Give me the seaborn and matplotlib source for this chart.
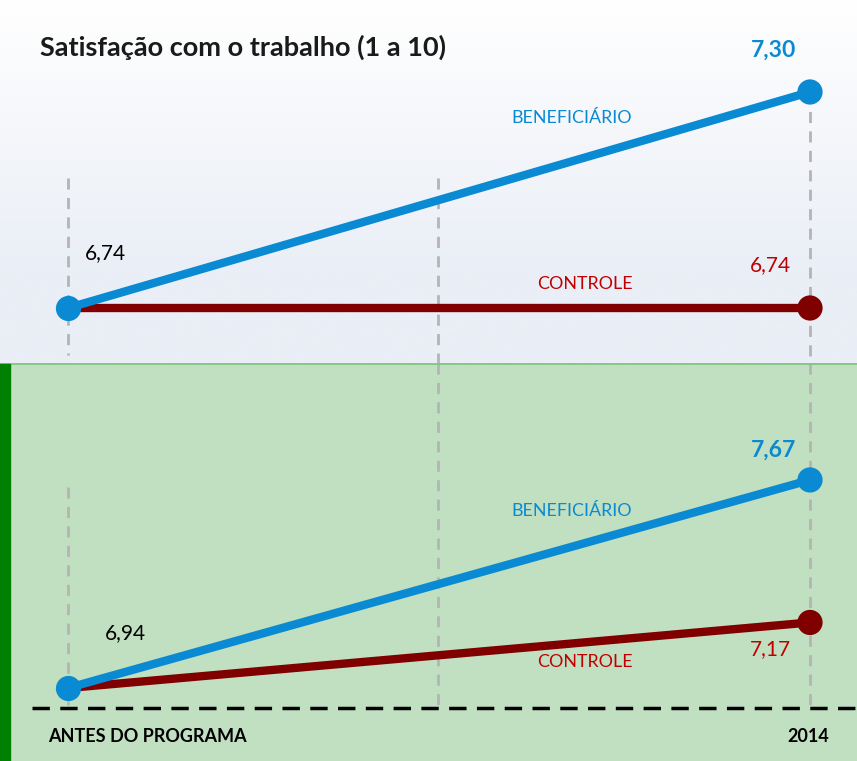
import numpy as np
import pandas as pd
import matplotlib
matplotlib.use("Agg")
import matplotlib.pyplot as plt
import seaborn as sns

# ---- data ----
periods = ["ANTES DO PROGRAMA", "2014"]
groups = ["BENEFICIÁRIO", "CONTROLE"]
top_benef = [6.74, 7.30]
top_ctrl = [6.74, 6.74]
bot_benef = [6.94, 7.67]
bot_ctrl = [6.94, 7.17]
title = "Satisfação com o trabalho (1 a 10)"

BLUE = "#0a8ad2"
RED_LINE = "#800000"
RED_TEXT = "#c00000"
FONT = ["Lato", "DejaVu Sans"]

sns.set_style("white")
plt.rcParams["font.family"] = FONT

W, H = 857, 761
fig = plt.figure(figsize=(W / 100, H / 100), dpi=100)

def fy(px_top):
    return 1 - px_top / H

split = 363
# bottom panel green background
fig.add_artist(plt.Rectangle((0, 0), 1, fy(split), color="#c1dfc1", zorder=0))

ax_top = fig.add_axes([0, fy(split), 1, split / H])
ax_bot = fig.add_axes([0, 0, 1, (H - split) / H])

xl = (-68 / 742, (857 - 68) / 742)
TOP_LIM = (6.5974, 7.5385)
BOT_LIM = (6.6839, 8.0804)

# top background gradient
grad = np.linspace(0, 1, 256).reshape(-1, 1)
c0 = np.array([1.0, 1.0, 1.0])
c1 = np.array([0xea, 0xee, 0xf6]) / 255
img = c0 + (c1 - c0) * np.clip(grad / 0.75, 0, 1)[..., None]
img = img.reshape(256, 1, 3)

def make_df(b, c):
    return pd.DataFrame({
        "x": [0, 1, 0, 1],
        "valor": b + c,
        "grupo": [groups[0]] * 2 + [groups[1]] * 2,
    })

pal = {groups[0]: BLUE, groups[1]: RED_LINE}
for ax, b, c, (ylo, yhi) in [
    (ax_top, top_benef, top_ctrl, TOP_LIM),
    (ax_bot, bot_benef, bot_ctrl, BOT_LIM),
]:
    ax.set_xlim(*xl)
    ax.set_ylim(ylo, yhi)
    ax.axis("off")
    df = make_df(b, c)
    sns.lineplot(data=df, x="x", y="valor", hue="grupo",
                 hue_order=groups[::-1], palette=pal,
                 linewidth=6, legend=False, ax=ax, zorder=4)
    ends = df[df["x"] == 1]
    sns.scatterplot(data=ends, x="x", y="valor", hue="grupo", palette=pal,
                    s=330, linewidth=0, legend=False, ax=ax, zorder=6)
    start = df[(df["x"] == 0) & (df["grupo"] == groups[0])]
    sns.scatterplot(data=start, x="x", y="valor", color=BLUE,
                    s=330, linewidth=0, legend=False, ax=ax, zorder=6)

ax_top.imshow(img, extent=[xl[0], xl[1], TOP_LIM[0], TOP_LIM[1]], aspect="auto",
              origin="upper", zorder=0)
ax_top.set_ylim(*TOP_LIM)
ax_top.set_xlim(*xl)

def top_y(px):
    lo, hi = TOP_LIM
    return lo + (split - px) / split * (hi - lo)

def bot_y(px):
    lo, hi = BOT_LIM
    return lo + (H - px) / (H - split) * (hi - lo)

def dx(px):
    return (px - 68) / 742

grey = "#b4b4b4"
dash = dict(color=grey, linewidth=2, linestyle=(0, (4, 3)), zorder=2)
ax_top.plot([dx(68)] * 2, [top_y(178), top_y(355)], **dash)
ax_top.plot([dx(438)] * 2, [top_y(178), top_y(363)], **dash)
ax_top.plot([dx(810)] * 2, [top_y(92), top_y(363)], **dash)
ax_bot.plot([dx(68)] * 2, [bot_y(487), bot_y(705)], **dash)
ax_bot.plot([dx(438)] * 2, [bot_y(363), bot_y(708)], **dash)
ax_bot.plot([dx(810)] * 2, [bot_y(363), bot_y(708)], **dash)
ax_bot.plot([dx(32), dx(857)], [bot_y(708)] * 2, color="black",
            linewidth=2.5, linestyle=(0, (5, 3)), zorder=3)
fig.add_artist(plt.Line2D([0, 1], [fy(363.5)] * 2, color="#7cc47c", linewidth=1.2))
fig.add_artist(plt.Rectangle((0, 0), 10 / W, fy(364), color="#008000", zorder=10))

def ftext(x, y, s, **kw):
    fig.text(x / W, fy(y), s, va="center", family=FONT, **kw)

ftext(40, 47, title, ha="left", fontsize=19.5, fontweight="bold", color="#1a1a1a")
ftext(774, 50, "7,30", ha="center", fontsize=16.5, fontweight="bold", color=BLUE)
ftext(572, 118, "BENEFICIÁRIO", ha="center", fontsize=12.9, color=BLUE)
ftext(105, 253, "6,74", ha="center", fontsize=15, color="black")
ftext(585, 284, "CONTROLE", ha="center", fontsize=12.9, color=RED_TEXT)
ftext(770, 265, "6,74", ha="center", fontsize=15, color=RED_TEXT)

ftext(774, 450, "7,67", ha="center", fontsize=16.5, fontweight="bold", color=BLUE)
ftext(572, 511, "BENEFICIÁRIO", ha="center", fontsize=12.9, color=BLUE)
ftext(125, 633, "6,94", ha="center", fontsize=15, color="black")
ftext(585, 662, "CONTROLE", ha="center", fontsize=12.9, color=RED_TEXT)
ftext(770, 649, "7,17", ha="center", fontsize=15, color=RED_TEXT)

ftext(48, 736, periods[0], ha="left", fontsize=13, fontweight="bold", color="black")
ftext(808, 736, periods[1], ha="center", fontsize=13, fontweight="bold", color="black")

fig.savefig("out.png", dpi=100)
